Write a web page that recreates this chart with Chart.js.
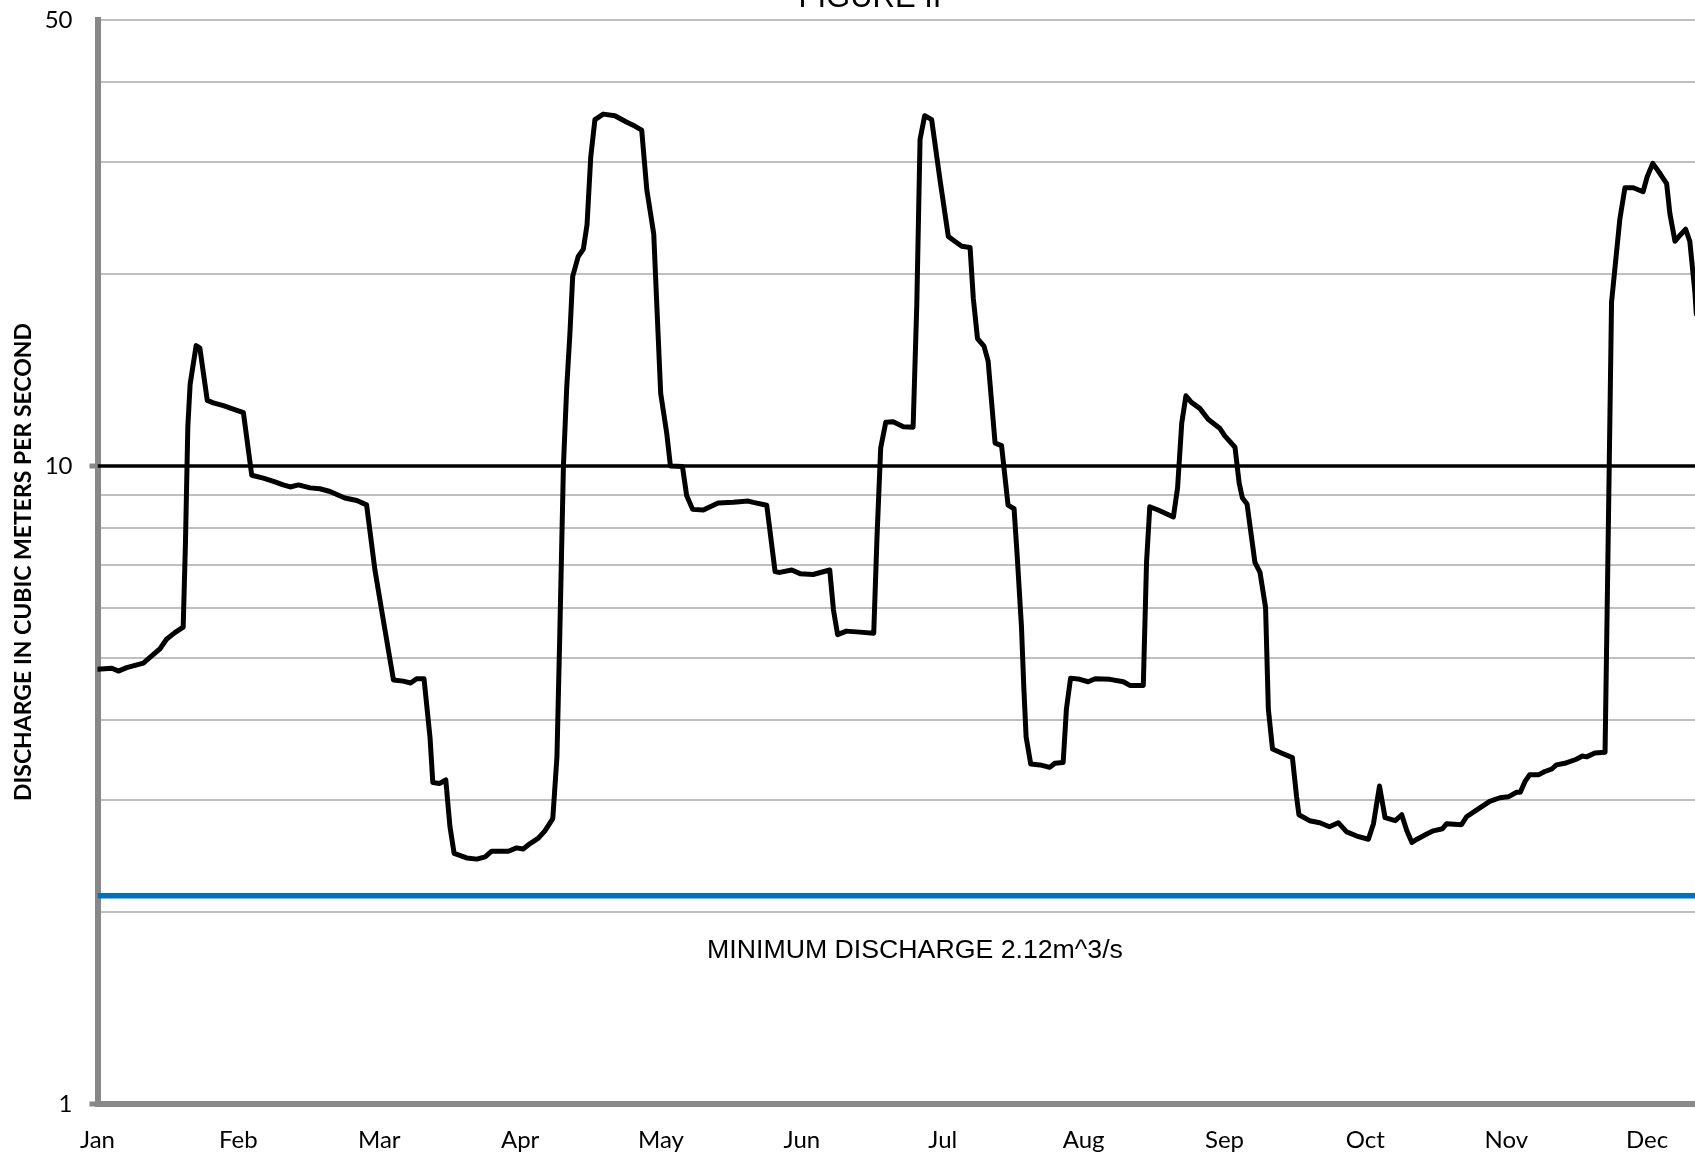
<!DOCTYPE html>
<html>
<head>
<meta charset="utf-8">
<title>Figure II</title>
<script src="https://cdn.jsdelivr.net/npm/chart.js@4.4.1/dist/chart.umd.min.js"></script>
<style>
  html, body { margin: 0; padding: 0; background: #fff; overflow: hidden; }
  #wrap { width: 1695px; height: 1152px; overflow: hidden; }
  canvas { display: block; }
</style>
</head>
<body>
<div id="wrap"><canvas id="chart" width="1800" height="1152"></canvas></div>
<script>
const months = ["Jan", "Feb", "Mar", "Apr", "May", "Jun", "Jul", "Aug", "Sep", "Oct", "Nov", "Dec"];

// day of year
const days = [
  0, 3.1, 4.5, 6.3, 7.7, 9.9, 11.7, 13.5, 14.9, 16.7, 18.5, 19.0, 19.5, 20.0, 21.3, 22.1,
  23.7, 25.0, 27.2, 29.3, 31.5, 33.3, 35.8, 38.0, 40.1, 41.6, 43.4, 45.9, 48.0, 50.2,
  53.4, 56.0, 58.1, 59.9, 61.7, 63.9, 66.0, 67.6, 68.9, 70.5, 71.8, 72.4, 73.9, 75.2,
  76.1, 77.0, 79.7, 81.9, 83.7, 85.1, 88.7, 90.5, 91.9, 93.4, 95.2, 96.6, 98.3, 99.2,
  99.8, 100.6, 101.3, 102.0, 102.6, 103.8, 104.9, 105.7, 106.5, 107.4, 109.2, 111.7,
  114.2, 116.0, 117.5, 118.6, 120.1, 120.7, 121.6, 122.9, 123.7, 126.3, 127.2, 128.5,
  130.8, 134.0, 137.3, 140.5, 141.6, 144.5, 146.3, 147.3, 149.9, 151.7, 154.5, 158.1,
  158.9, 159.8, 161.7, 164.6, 167.6, 168.3, 169.1, 170.2, 171.8, 174.0, 176.1, 176.9,
  177.6, 178.6, 180.1, 181.9, 183.7, 185.1, 186.6, 188.4, 189.1, 190.0, 191.4, 192.3,
  193.8, 195.2, 196.6, 197.9, 198.6, 199.5, 200.0, 200.5, 201.5, 203.5, 205.6, 206.7,
  208.5, 209.2, 210.1, 212.1, 213.9, 215.4, 218.6, 221.5, 222.9, 225.8, 226.5, 227.2,
  229.0, 232.3, 233.2, 234.1, 235.0, 236.2, 238.0, 239.8, 242.3, 243.4, 245.6, 246.5,
  247.2, 248.2, 249.9, 251.0, 252.2, 252.8, 253.7, 255.6, 258.0, 258.9, 259.4, 261.7,
  263.9, 266.0, 267.9, 269.7, 271.9, 274.4, 275.5, 276.8, 278.0, 280.2, 281.6, 282.7,
  283.8, 284.9, 287.0, 288.4, 290.4, 291.3, 294.5, 295.6, 297.8, 300.6, 302.8, 304.6,
  306.4, 307.2, 308.2, 309.2, 311.1, 312.5, 314.0, 315.0, 316.8, 319.3, 320.6, 321.5,
  323.3, 325.5, 326.0, 326.4, 326.9, 327.6, 328.7, 329.8, 331.6, 333.7, 334.6, 335.8,
  337.4, 338.8, 339.5, 340.6, 341.7, 342.9, 343.8, 344.9, 345.2
];

// discharge, m^3/s
const discharge = [
  4.80, 4.82, 4.77, 4.83, 4.86, 4.91, 5.04, 5.17, 5.35, 5.48, 5.59, 7.62, 11.5, 13.43, 15.44, 15.3,
  12.67, 12.56, 12.43, 12.28, 12.12, 9.67, 9.57, 9.46, 9.34, 9.27, 9.34, 9.24, 9.21, 9.12,
  8.91, 8.83, 8.69, 6.87, 5.74, 4.62, 4.60, 4.57, 4.64, 4.64, 3.75, 3.19, 3.18, 3.22,
  2.72, 2.47, 2.43, 2.42, 2.44, 2.49, 2.49, 2.52, 2.51, 2.56, 2.61, 2.68, 2.8, 3.5,
  5.39, 10.0, 13.23, 16.12, 19.82, 21.3, 21.87, 23.9, 30.5, 34.9, 35.6, 35.4,
  34.6, 34.1, 33.6, 27.1, 23.1, 18.3, 13.0, 11.26, 10.0, 9.98, 8.99, 8.55,
  8.53, 8.75, 8.77, 8.81, 8.77, 8.68, 6.83, 6.81, 6.87, 6.78, 6.76, 6.87,
  5.95, 5.44, 5.51, 5.49, 5.47, 7.72, 10.67, 11.71, 11.73, 11.52, 11.5, 17.95,
  32.5, 35.4, 34.9, 28.1, 22.9, 22.5, 22.1, 22.0, 18.3, 15.84, 15.41, 14.6,
  10.86, 10.76, 8.68, 8.57, 7.18, 5.59, 4.5, 3.76, 3.41, 3.40, 3.37, 3.42,
  3.43, 4.16, 4.65, 4.63, 4.59, 4.64, 4.63, 4.59, 4.53, 4.53, 7.06, 8.63,
  8.53, 8.32, 9.24, 11.67, 12.88, 12.58, 12.31, 11.84, 11.46, 11.15, 10.70, 9.40,
  8.91, 8.72, 7.06, 6.81, 6.0, 4.16, 3.60, 3.55, 3.49, 3.03, 2.84, 2.78,
  2.76, 2.72, 2.76, 2.67, 2.63, 2.60, 2.75, 3.15, 2.81, 2.78, 2.84, 2.68,
  2.57, 2.60, 2.65, 2.68, 2.70, 2.75, 2.74, 2.82, 2.89, 2.98, 3.02, 3.03,
  3.08, 3.08, 3.20, 3.28, 3.28, 3.32, 3.35, 3.40, 3.42, 3.47, 3.51, 3.50,
  3.55, 3.56, 6.27, 10.0, 18.05, 20.3, 24.4, 27.3, 27.3, 26.9, 28.4, 29.8,
  28.7, 27.7, 24.85, 22.5, 23.0, 23.5, 22.5, 18.7, 17.3
];

const minimumDischarge = 2.12;
const threshold = 10;
const yTickValues = [1, 2, 3, 4, 5, 6, 7, 8, 9, 10, 20, 30, 40, 50];
const yTickLabels = [1, 10, 50];

const axisGray = "#878787";

// title (mostly cut off at the top) and the label under the blue line
const figureText = {
  id: "figureText",
  afterDraw(chart) {
    const ctx = chart.ctx;
    ctx.save();
    ctx.fillStyle = "#000";
    ctx.textAlign = "center";
    ctx.textBaseline = "alphabetic";
    ctx.font = '31px "Liberation Sans", Arial, sans-serif';
    ctx.fillText("FIGURE II", 870, 7);
    ctx.font = '26.7px "Liberation Sans", Arial, sans-serif';
    ctx.fillText("MINIMUM DISCHARGE 2.12m^3/s", 915, 958);
    ctx.restore();
  }
};

new Chart(document.getElementById("chart").getContext("2d"), {
  type: "line",
  data: {
    datasets: [
      {
        label: "Discharge",
        data: days.map((d, i) => ({ x: d, y: discharge[i] })),
        borderColor: "#000",
        borderWidth: 5,
        borderJoinStyle: "round",
        borderCapStyle: "round",
        pointRadius: 0,
        tension: 0
      },
      {
        label: "Minimum discharge",
        data: [{ x: 0, y: minimumDischarge }, { x: 365, y: minimumDischarge }],
        borderColor: "#0070C0",
        borderWidth: 5.5,
        pointRadius: 0
      },
      {
        label: "10",
        data: [{ x: 0, y: threshold }, { x: 365, y: threshold }],
        borderColor: "#000",
        borderWidth: 3.5,
        pointRadius: 0
      }
    ]
  },
  options: {
    responsive: false,
    animation: false,
    layout: { padding: { top: 20, right: 12, left: 0, bottom: 0 } },
    plugins: {
      legend: { display: false },
      tooltip: { enabled: false }
    },
    scales: {
      x: {
        type: "linear",
        min: 0,
        max: 365,
        grid: { display: false, drawTicks: false },
        border: { color: axisGray, width: 6 },
        afterBuildTicks: (scale) => {
          scale.ticks = months.map((m, i) => ({ value: i * 365 / 12 }));
        },
        afterFit: (scale) => { scale.height = 48; },
        ticks: {
          autoSkip: false,
          maxRotation: 0,
          padding: 22,
          color: "#000",
          font: { family: "Lato", size: 24 },
          callback: (value, index) => months[index]
        }
      },
      y: {
        type: "logarithmic",
        min: 1,
        max: 50,
        afterBuildTicks: (scale) => {
          scale.ticks = yTickValues.map(v => ({ value: v }));
        },
        afterFit: (scale) => {
          scale.width = 97.5;
          scale.paddingTop = 0;
          scale.paddingBottom = 0;
        },
        grid: {
          color: (c) => (c.tick && c.tick.value === 1) ? "rgba(0,0,0,0)" : "#BFBFBF",
          lineWidth: 2,
          tickLength: 8,
          tickWidth: 5,
          tickColor: (c) => (c.tick && (c.tick.value === 1 || c.tick.value === 10)) ? axisGray : "rgba(0,0,0,0)"
        },
        border: { color: axisGray, width: 6 },
        ticks: {
          autoSkip: false,
          padding: 17,
          color: "#000",
          font: { family: "Lato", size: 24 },
          callback: (value) => yTickLabels.includes(value) ? String(value) : ""
        },
        title: {
          display: true,
          text: "DISCHARGE IN CUBIC METERS PER SECOND",
          color: "#000",
          font: { family: "Lato", size: 23, weight: "bold" },
          padding: { top: 10, bottom: 0 }
        }
      }
    }
  },
  plugins: [figureText]
});
</script>
</body>
</html>
